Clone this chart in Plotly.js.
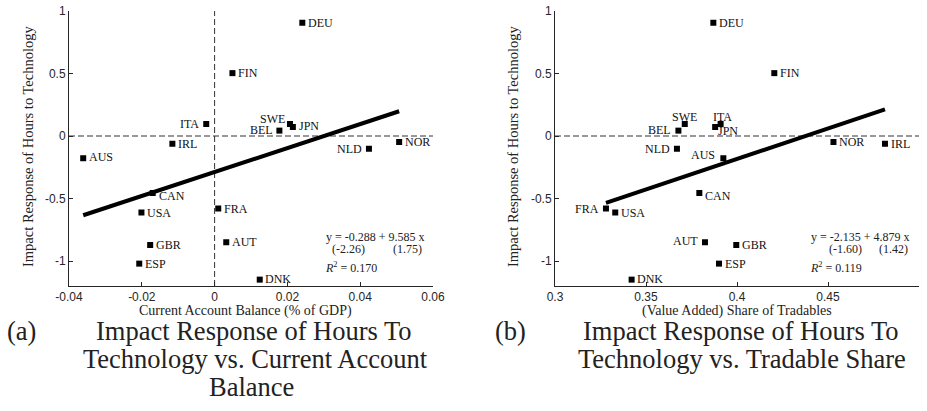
<!DOCTYPE html>
<html><head><meta charset="utf-8">
<script src="https://cdn.plot.ly/plotly-3.0.1.min.js"></script>
<style>html,body{margin:0;padding:0;background:#fff}#chart{width:927px;height:411px}</style>
</head><body><div id="chart"></div>
<script>
// Panel (a): current account balance vs impact response
const countriesA = ["DEU","FIN","ITA","SWE","JPN","BEL","IRL","NLD","NOR","AUS","CAN","USA","FRA","GBR","AUT","ESP","DNK"];
const currentAccount = [0.0241,0.0049,-0.0023,0.0207,0.0215,0.0178,-0.0116,0.0424,0.0507,-0.0361,-0.0170,-0.0201,0.0010,-0.0177,0.0032,-0.0207,0.0124];
const responseA = [0.906,0.503,0.096,0.096,0.072,0.043,-0.062,-0.102,-0.048,-0.178,-0.456,-0.612,-0.580,-0.872,-0.850,-1.021,-1.149];
const fitA_x = [-0.0361, 0.0507];
const fitA_y = [-0.634, 0.198];

// Panel (b): tradable share vs impact response
const countriesB = ["DEU","FIN","SWE","ITA","JPN","BEL","NLD","NOR","IRL","AUS","CAN","FRA","USA","AUT","GBR","ESP","DNK"];
const tradableShare = [0.387,0.4205,0.3713,0.391,0.388,0.3678,0.367,0.453,0.4813,0.3925,0.3793,0.328,0.3331,0.3824,0.3996,0.3901,0.3421];
const responseB = [0.906,0.503,0.096,0.096,0.072,0.043,-0.102,-0.048,-0.062,-0.178,-0.456,-0.580,-0.612,-0.850,-0.872,-1.021,-1.149];
const fitB_x = [0.328, 0.4813];
const fitB_y = [-0.535, 0.213];

const yTicks = [-1,-0.5,0,0.5,1];
const yTickText = ["-1","-0.5","0","0.5","1"];
const xTicksA = [-0.04,-0.02,0,0.02,0.04,0.06];
const xTickTextA = ["-0.04","-0.02","0","0.02","0.04","0.06"];
const xTicksB = [0.3,0.35,0.4,0.45,0.5];
const xTickTextB = ["0.3","0.35","0.4","0.45","0.5"];

// label placement (style): anchor side, x shift px, y shift px (up positive)
const anchorA = ["left","left","right","right","left","right","left","right","left","left","left","left","left","left","left","left","left"];
const dxA = [4,4,-5,-3,4,-4,4,-5,4,4,4,4,4,4,4,4,3];
const dyA = [0,0,0,5,1,1,0,0,0,1,-3,0,0,0,0,0,1];
const anchorB = ["left","left","center","center","left","right","right","left","left","right","left","right","left","right","left","left","left"];
const dxB = [4,4,0,2,1,-5,-5,4,4,-6,4,-5,4,-5,4,4,3];
const dyB = [0,0,7,7,-4,1,0,0,0,3,-3,0,0,1,0,0,1];

const W = 927, H = 411;
const px = v => v / W;
const py = v => 1 - v / H;
const serif = "'Liberation Serif', 'Times New Roman', serif";
const sans = "'Liberation Sans', Arial, sans-serif";
const ink = "#262626";

const traces = [
  {x: fitA_x, y: fitA_y, mode: "lines", line: {color: "#000", width: 4}, xaxis: "x", yaxis: "y", hoverinfo: "skip"},
  {x: currentAccount, y: responseA, mode: "markers",
   marker: {symbol: "square", size: 6, color: "#000"}, xaxis: "x", yaxis: "y", cliponaxis: false},
  {x: fitB_x, y: fitB_y, mode: "lines", line: {color: "#000", width: 4}, xaxis: "x2", yaxis: "y2", hoverinfo: "skip"},
  {x: tradableShare, y: responseB, mode: "markers",
   marker: {symbol: "square", size: 6, color: "#000"}, xaxis: "x2", yaxis: "y2", cliponaxis: false}
];

const axBase = {showline: true, linecolor: ink, linewidth: 1, ticks: "inside", ticklen: 4, tickcolor: ink,
  showgrid: false, zeroline: false, tickfont: {family: sans, size: 12, color: ink}, mirror: false};

const yDom = [py(286), py(11)];
const layout = {
  width: W, height: H, showlegend: false,
  margin: {l: 0, r: 0, t: 0, b: 0},
  paper_bgcolor: "#fff", plot_bgcolor: "#fff",
  xaxis: Object.assign({}, axBase, {domain: [px(69), px(433)], range: [-0.04, 0.06], tickvals: xTicksA, ticktext: xTickTextA, anchor: "y", ticklabelstandoff: 0}),
  yaxis: Object.assign({}, axBase, {domain: yDom, range: [-1.2, 1], tickvals: yTicks, ticktext: yTickText, anchor: "x"}),
  xaxis2: Object.assign({}, axBase, {domain: [px(555), px(919)], range: [0.3, 0.5], tickvals: xTicksB, ticktext: xTickTextB, anchor: "y2", ticklabelstandoff: 0}),
  yaxis2: Object.assign({}, axBase, {domain: yDom, range: [-1.2, 1], tickvals: yTicks, ticktext: yTickText, anchor: "x2"}),
  shapes: [
    {type: "line", xref: "x domain", yref: "y", x0: 0, x1: 1, y0: 0, y1: 0, line: {color: "#333", width: 1, dash: "6px,3px"}, layer: "below"},
    {type: "line", xref: "x", yref: "y domain", x0: 0, x1: 0, y0: 0, y1: 1, line: {color: "#333", width: 1, dash: "6px,3px"}, layer: "below"},
    {type: "line", xref: "x2 domain", yref: "y2", x0: 0, x1: 1, y0: 0, y1: 0, line: {color: "#333", width: 1, dash: "6px,3px"}, layer: "below"}
  ],
  annotations: []
};

// country labels
function labels(names, xs, ys, anchors, dxs, dys, xr, yr) {
  names.forEach((n, i) => {
    layout.annotations.push({text: n, xref: xr, yref: yr, x: xs[i], y: ys[i], xanchor: anchors[i], yanchor: "middle",
      xshift: dxs[i], yshift: dys[i], showarrow: false, font: {family: serif, size: 12, color: "#111"}});
  });
}
labels(countriesA, currentAccount, responseA, anchorA, dxA, dyA, "x", "y");
labels(countriesB, tradableShare, responseB, anchorB, dxB, dyB, "x2", "y2");

function ann(text, x, y, size, family, opts) {
  layout.annotations.push(Object.assign({text: text, xref: "paper", yref: "paper", x: px(x), y: py(y),
    xanchor: "center", yanchor: "middle", showarrow: false, font: {family: family, size: size, color: "#222"}}, opts || {}));
}
// axis titles
ann("Current Account Balance (% of GDP)", 245, 311, 14, serif);
ann("(Value Added) Share of Tradables", 737, 311, 14, serif);
ann("Impact Response of Hours to Technology", 28, 147, 14.5, serif, {textangle: -90});
ann("Impact Response of Hours to Technology", 513, 147, 14.5, serif, {textangle: -90});
// regression stats
ann("y = -0.288 + 9.585 x", 375, 237, 12, serif);
ann("(-2.26)", 348, 248.5, 12, serif);
ann("(1.75)", 407, 248.5, 12, serif);
ann("<i>R</i><sup>2</sup> = 0.170", 351, 267, 12, serif);
ann("y = -2.135 + 4.879 x", 860, 237, 12, serif);
ann("(-1.60)", 845, 248.5, 12, serif);
ann("(1.42)", 893, 248.5, 12, serif);
ann("<i>R</i><sup>2</sup> = 0.119", 836, 267, 12, serif);
// captions
ann("(a)", 21, 331, 26.5, serif);
ann("Impact Response of Hours To", 254, 331, 26.5, serif);
ann("Technology vs. Current Account", 255, 359, 26.5, serif);
ann("Balance", 251, 387, 26.5, serif);
ann("(b)", 510, 331, 26.5, serif);
ann("Impact Response of Hours To", 741, 331, 26.5, serif);
ann("Technology vs. Tradable Share", 742, 359, 26.5, serif);

Plotly.newPlot("chart", traces, layout, {staticPlot: true, displayModeBar: false});
</script></body></html>
